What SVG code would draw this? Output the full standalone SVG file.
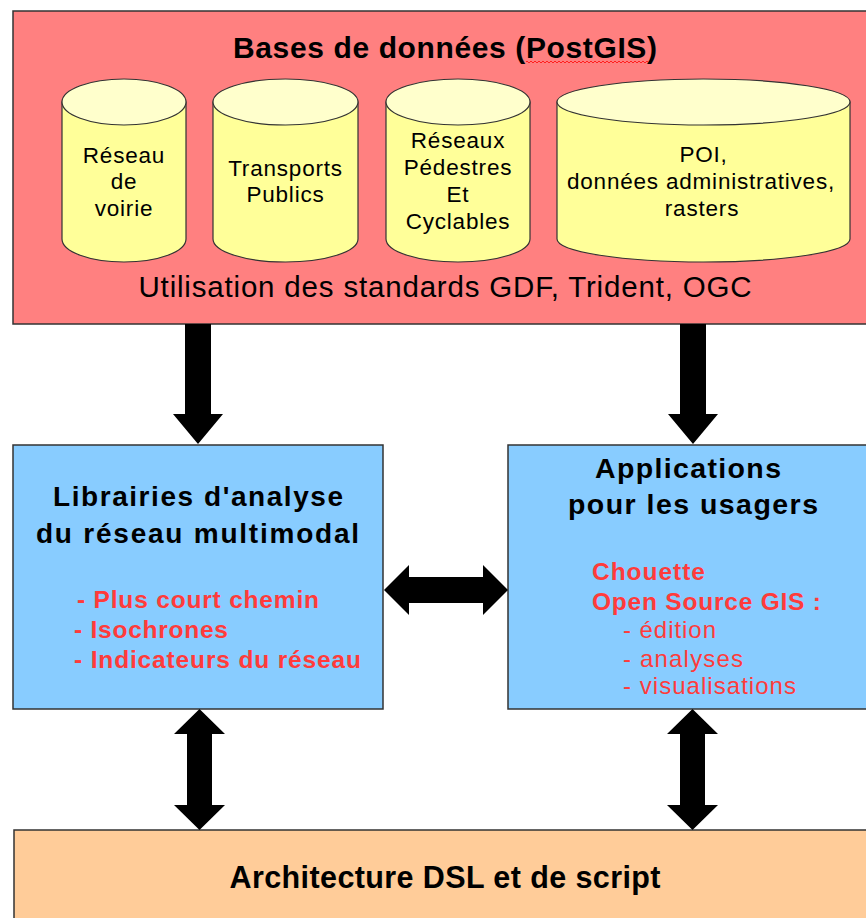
<svg xmlns="http://www.w3.org/2000/svg" width="866" height="918" viewBox="0 0 866 918">
<style>
.box{stroke:#333;stroke-width:1.5}
.cyl{fill:#ffff99;stroke:#333;stroke-width:1.2}
.cyltop{fill:#ffffcc;stroke:#333;stroke-width:1.2}
text{font-family:"Liberation Sans",Arial,sans-serif;fill:#000}
.c{text-anchor:middle}
.ct{font-size:22.5px;text-anchor:middle;letter-spacing:0.8px}
.b{font-weight:bold}
.red{fill:#ff3b3b}
.arr{fill:#000}
</style>
<rect width="866" height="918" fill="#fff"/>
<g id="bases">
  <rect class="box" x="13" y="11" width="870" height="313" fill="#ff8080"/>
  <text class="c b" x="445" y="58" font-size="30" textLength="424">Bases de données (PostGIS)</text>
  <path d="M526,62 q1,-2 2,0 t2,0 t2,0 t2,0 t2,0 t2,0 t2,0 t2,0 t2,0 t2,0 t2,0 t2,0 t2,0 t2,0 t2,0 t2,0 t2,0 t2,0 t2,0 t2,0 t2,0 t2,0 t2,0 t2,0 t2,0 t2,0 t2,0 t2,0 t2,0 t2,0 t2,0 t2,0 t2,0 t2,0 t2,0 t2,0 t2,0 t2,0 t2,0 t2,0 t2,0 t2,0 t2,0 t2,0 t2,0 t2,0 t2,0 t2,0 t2,0 t2,0 t2,0 t2,0 t2,0 t2,0 t2,0 t2,0 t2,0 t2,0 t2,0 t2,0 t2,0" fill="none" stroke="#ff2020" stroke-width="1"/>
  <text class="c" x="445" y="297" font-size="29.5" textLength="613">Utilisation des standards GDF, Trident, OGC</text>
</g>
<g id="cyl-voirie">
  <path class="cyl" d="M62,102 L62,239 A62,23 0 0 0 186,239 L186,102 Z"/>
  <ellipse class="cyltop" cx="124" cy="102" rx="62" ry="23"/>
  <text class="ct" x="124" y="163">Réseau</text>
  <text class="ct" x="124" y="189">de</text>
  <text class="ct" x="124" y="216">voirie</text>
</g>
<g id="cyl-transports">
  <path class="cyl" d="M213,102 L213,239 A72.5,23 0 0 0 358,239 L358,102 Z"/>
  <ellipse class="cyltop" cx="285.5" cy="102" rx="72.5" ry="23"/>
  <text class="ct" x="285.5" y="176">Transports</text>
  <text class="ct" x="285.5" y="202">Publics</text>
</g>
<g id="cyl-pedestres">
  <path class="cyl" d="M386,102 L386,239 A72,23 0 0 0 530,239 L530,102 Z"/>
  <ellipse class="cyltop" cx="458" cy="102" rx="72" ry="23"/>
  <text class="ct" x="458" y="148">Réseaux</text>
  <text class="ct" x="458" y="175">Pédestres</text>
  <text class="ct" x="458" y="202">Et</text>
  <text class="ct" x="458" y="229">Cyclables</text>
</g>
<g id="cyl-poi">
  <path class="cyl" d="M557,102 L557,239 A146.5,23 0 0 0 850,239 L850,102 Z"/>
  <ellipse class="cyltop" cx="703.5" cy="102" rx="146.5" ry="23"/>
  <text class="ct" x="703.5" y="162">POI,</text>
  <text class="ct" x="701" y="189" textLength="268">données administratives,</text>
  <text class="ct" x="702" y="216">rasters</text>
</g>
<g id="librairies">
  <rect class="box" x="13" y="445" width="370" height="264" fill="#88ccff"/>
  <text class="c b" x="198" y="506" font-size="28" textLength="290">Librairies d'analyse</text>
  <text class="c b" x="197.5" y="543" font-size="28" textLength="323">du réseau multimodal</text>
  <text class="b red" x="77" y="608" font-size="24.5" textLength="242">- Plus court chemin</text>
  <text class="b red" x="74" y="638" font-size="24.5" textLength="154">- Isochrones</text>
  <text class="b red" x="74" y="668" font-size="24.5" textLength="287">- Indicateurs du réseau</text>
</g>
<g id="applications">
  <rect class="box" x="508" y="445" width="370" height="264" fill="#88ccff"/>
  <text class="c b" x="688" y="478" font-size="28.5" textLength="186">Applications</text>
  <text class="c b" x="693" y="514" font-size="28.5" textLength="250">pour les usagers</text>
  <text class="b red" x="592" y="580" font-size="24.5" textLength="113">Chouette</text>
  <text class="b red" x="592" y="610" font-size="24.5" textLength="229">Open Source GIS :</text>
  <text class="red" x="623" y="638" font-size="24" textLength="93">- édition</text>
  <text class="red" x="623" y="667" font-size="24" textLength="120">- analyses</text>
  <text class="red" x="623" y="694" font-size="24" textLength="173">- visualisations</text>
</g>
<g id="architecture">
  <rect class="box" x="14" y="830" width="870" height="100" fill="#ffcc99"/>
  <text class="c b" x="445" y="888" font-size="30.5" textLength="431">Architecture DSL et de script</text>
</g>
<g id="connectors">
  <polygon class="arr" points="185,324 211,324 211,414 223,414 198,444 173,414 185,414"/>
  <polygon class="arr" points="680,324 706,324 706,414 718,414 693,444 668,414 680,414"/>
  <polygon class="arr" points="384,590 409,565 409,577 483,577 483,565 508,590 483,615 483,603 409,603 409,615"/>
  <polygon class="arr" points="199.5,709 225,734 212,734 212,805 225,805 199.5,830 174,805 187,805 187,734 174,734"/>
  <polygon class="arr" points="692.5,709 718,734 705,734 705,805 718,805 692.5,830 667,805 680,805 680,734 667,734"/>
</g>
</svg>
